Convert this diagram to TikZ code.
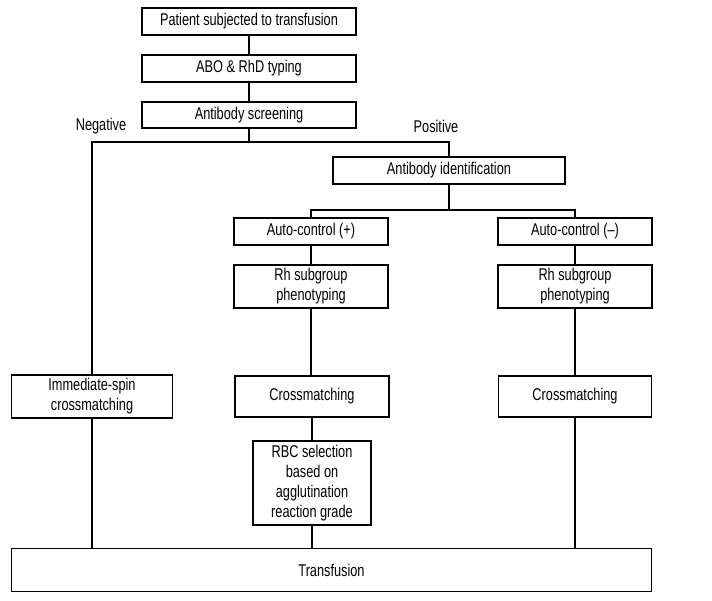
\documentclass[tikz,border=0pt]{standalone}
\usepackage{fontspec}
\setmainfont{Liberation Sans}[FakeStretch=0.75]
\usepackage{tikz}
\usetikzlibrary{positioning,calc}
\tikzset{
  box/.style={draw=black, line width=1.4pt, fill=white, inner sep=1pt,
              align=center, font=\fontsize{17}{20}\selectfont},
  ln/.style={draw=black, line width=1.1pt},
  lbl/.style={font=\fontsize{17}{20}\selectfont, inner sep=0pt},
}
\begin{document}
\begin{tikzpicture}[x=1pt,y=-1pt]
  \useasboundingbox (0,0) rectangle (712,601);
  % top chain
  \node[box, minimum width=214pt, minimum height=27pt] (patient) at (249,21.5)
       {Patient subjected to transfusion};
  \node[box, minimum width=214pt, minimum height=27pt] (typing) at (249,68.5)
       {ABO \& RhD typing};
  \node[box, minimum width=214pt, minimum height=26pt] (screen) at (249,115)
       {Antibody screening};
  \node[lbl] (neg) at (101,126) {Negative};
  \node[lbl] (pos) at (436,126) {Positive};
  \coordinate (split) at (249,142);
  \node[box, minimum width=232pt, minimum height=27pt] (ident) at (449,170.5)
       {Antibody identification};
  \coordinate (split2) at (449,210);
  % auto-control branches
  \node[box, minimum width=154pt, minimum height=27pt] (acpos) at (311,231.5)
       {Auto-control (+)};
  \node[box, minimum width=154pt, minimum height=27pt] (acneg) at (575,231.5)
       {Auto-control (--)};
  \node[box, minimum width=154pt, minimum height=43pt] (rhpos) at (311,286.5)
       {Rh subgroup\\phenotyping};
  \node[box, minimum width=154pt, minimum height=43pt] (rhneg) at (575,286.5)
       {Rh subgroup\\phenotyping};
  \node[box, minimum width=161pt, minimum height=43pt] (isc) at (92,396.5)
       {Immediate-spin\\crossmatching};
  \node[box, minimum width=154pt, minimum height=41pt] (cmpos) at (312,396.5)
       {Crossmatching};
  \node[box, minimum width=153pt, minimum height=41pt] (cmneg) at (575,396.5)
       {Crossmatching};
  \node[box, minimum width=118pt, minimum height=84pt] (rbc) at (312,483)
       {RBC selection\\based on\\agglutination\\reaction grade};
  \node[box, minimum width=640pt, minimum height=43pt] (transf) at (331.5,570)
       {Transfusion};

  \draw[ln] (patient) -- (typing);
  \draw[ln] (typing) -- (screen);
  \draw[ln] (screen) -- (split);
  \draw[ln] (isc.north) |- (split) -| (ident.north);
  \draw[ln] (ident) -- (split2);
  \draw[ln] (acpos.north) |- (split2) -| (acneg.north);
  \draw[ln] (acpos) -- (rhpos);
  \draw[ln] (rhpos) -- (rhpos |- cmpos.north);
  \draw[ln] (cmpos) -- (rbc);
  \draw[ln] (rbc) -- (rbc |- transf.north);
  \draw[ln] (isc) -- (isc |- transf.north);
  \draw[ln] (acneg) -- (rhneg);
  \draw[ln] (rhneg) -- (cmneg);
  \draw[ln] (cmneg) -- (cmneg |- transf.north);
\end{tikzpicture}
\end{document}
